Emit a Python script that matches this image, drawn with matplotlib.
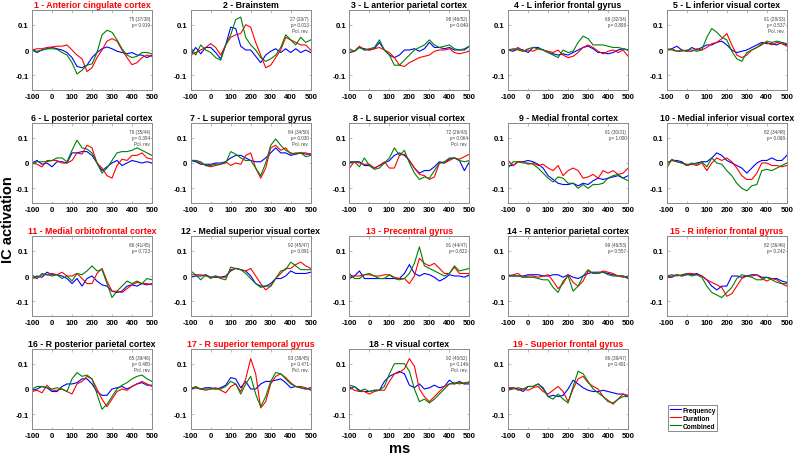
import numpy as np
import matplotlib
matplotlib.use("Agg")
import matplotlib.pyplot as plt

plt.rcParams['font.family'] = ['Liberation Sans', 'DejaVu Sans']
plt.rcParams['font.weight'] = 'bold'
plt.rcParams['axes.unicode_minus'] = False

# time axis (ms), sampled every 25 ms
t = [-100, -75, -50, -25, 0, 25, 50, 75, 100, 125, 150, 175, 200,
     225, 250, 275, 300, 325, 350, 375, 400, 425, 450, 475, 500]

titles = ['1 - Anterior cingulate cortex', '2 - Brainstem', '3 - L anterior parietal cortex',
          '4 - L inferior frontal gyrus', '5 - L inferior visual cortex',
          '6 - L posterior parietal cortex', '7 - L superior temporal gyrus',
          '8 - L superior visual cortex', '9 - Medial frontal cortex',
          '10 - Medial inferior visual cortex', '11 - Medial orbitofrontal cortex',
          '12 - Medial superior visual cortex', '13 - Precentral gyrus',
          '14 - R anterior parietal cortex', '15 - R inferior frontal gyrus',
          '16 - R posterior parietal cortex', '17 - R superior temporal gyrus',
          '18 - R visual cortex', '19 - Superior frontal gyrus']
red_title = [1, 0, 0, 0, 0, 0, 0, 0, 0, 0, 1, 0, 1, 0, 1, 0, 1, 0, 1]
notes = ['75 (37/38)\np= 0.919', '27 (20/7)\np= 0.013\nPol. rev.', '98 (46/52)\np= 0.640',
         '66 (32/34)\np= 0.898', '61 (28/33)\np= 0.537\nPol. rev.',
         '79 (35/44)\np= 0.394\nPol. rev.', '84 (34/50)\np= 0.030\nPol. rev.',
         '72 (29/43)\np= 0.064\nPol. rev.', '61 (30/31)\np= 1.000', '82 (34/48)\np= 0.068',
         '86 (41/45)\np= 0.723', '92 (45/47)\np= 0.891', '91 (44/47)\np= 0.822',
         '99 (46/53)\np= 0.557', '82 (36/46)\np= 0.242', '85 (39/46)\np= 0.480\nPol. rev.',
         '83 (38/45)\np= 0.471\nPol. rev.', '92 (40/52)\np= 0.146\nPol. rev.',
         '86 (39/47)\np= 0.401']

freq = [
    [0, -0.01, 0, 0.005, 0.01, 0.005, 0, -0.01, -0.03, -0.065, -0.07, -0.06, -0.03, -0.01, 0.005, 0.012, 0.005, -0.005, -0.01, -0.015, -0.01, -0.02, -0.02, -0.03, -0.02],
    [-0.02, 0.01, -0.015, 0.01, 0.01, -0.01, -0.035, 0.02, 0.09, 0.085, 0.015, 0.0, 0.0, -0.025, -0.05, -0.02, -0.005, 0.005, -0.01, 0.005, -0.01, 0.005, -0.01, 0.0, -0.01],
    [-0.01, -0.005, 0.01, 0.005, 0.0, 0.005, 0.03, 0.0, -0.02, -0.03, -0.02, 0.0, 0.0, 0.005, -0.005, 0.005, 0.03, 0.01, 0.01, 0.005, 0.01, 0.0, 0.0, 0.0, 0.015],
    [0.0, -0.005, 0.005, 0.0, -0.01, 0.01, 0.01, 0.0, -0.01, -0.015, -0.02, -0.015, -0.02, -0.01, 0.0, 0.01, 0.015, 0.005, -0.01, -0.01, -0.015, -0.01, 0.0, 0.005, 0.0],
    [0.0, 0.005, 0.015, 0.0, -0.005, 0.01, 0.0, 0.01, 0.02, 0.02, 0.03, 0.035, 0.02, 0.0, -0.01, -0.005, 0.0, 0.01, 0.02, 0.03, 0.025, 0.025, 0.02, 0.03, 0.02],
    [0.0, 0.01, -0.005, 0.0, -0.015, 0.005, 0.005, 0.0, 0.04, 0.04, 0.045, 0.045, 0.03, 0.0, -0.03, -0.015, 0.0, 0.01, -0.01, 0.0, 0.01, 0.005, 0.0, 0.005, 0.0],
    [0.01, 0.005, -0.005, -0.005, -0.005, 0.0, 0.0, 0.005, 0.02, 0.03, 0.03, 0.02, 0.01, 0.005, 0.005, 0.02, 0.04, 0.06, 0.04, 0.04, 0.03, 0.035, 0.04, 0.035, 0.035],
    [0.0, 0.005, 0.005, -0.01, -0.01, -0.02, -0.01, 0.0, 0.01, 0.03, 0.04, 0.03, 0.01, -0.02, -0.04, -0.03, -0.03, -0.015, 0.005, 0.0, 0.015, 0.02, 0.01, -0.03, 0.005],
    [-0.01, -0.01, 0.005, 0.005, 0.01, 0.005, -0.005, -0.02, -0.05, -0.065, -0.08, -0.085, -0.085, -0.08, -0.09, -0.08, -0.085, -0.07, -0.06, -0.065, -0.06, -0.055, -0.05, -0.06, -0.05],
    [0.0, 0.01, 0.01, 0.005, -0.01, -0.005, 0.0, 0.005, 0.005, 0.02, 0.04, 0.03, 0.01, 0.0, -0.01, -0.02, -0.04, -0.02, 0.0, 0.01, 0.01, 0.02, 0.01, 0.01, 0.03],
    [-0.01, 0.0, -0.005, 0.015, 0.005, 0.005, 0.0, -0.01, -0.03, -0.01, -0.04, -0.01, 0.0, -0.02, -0.035, -0.04, -0.06, -0.065, -0.06, -0.04, -0.035, -0.04, -0.03, -0.035, -0.03],
    [-0.005, 0.0, 0.0, 0.005, -0.005, -0.005, -0.005, 0.0, 0.02, 0.03, 0.025, 0.02, 0.0, -0.03, -0.04, -0.04, -0.03, -0.01, -0.01, 0.0, 0.02, 0.01, 0.01, 0.01, 0.015],
    [-0.01, 0.0, 0.02, -0.01, -0.01, -0.01, -0.01, -0.01, -0.01, -0.01, -0.01, 0.01, 0.045, 0.01, 0.0, 0.01, 0.005, -0.005, -0.02, -0.01, 0.005, 0.0, 0.0, -0.005, 0.005],
    [0.0, 0.0, 0.0, 0.0, 0.005, 0.005, 0.005, 0.0, 0.0, 0.005, 0.005, -0.005, 0.005, -0.005, -0.01, 0.0, 0.01, 0.015, 0.015, 0.015, 0.01, 0.005, 0.0, 0.0, -0.01],
    [-0.005, -0.005, 0.005, 0.0, 0.005, 0.005, 0.01, 0.0, -0.015, -0.04, -0.055, -0.04, -0.04, 0.0, 0.0, -0.005, 0.0, 0.005, 0.005, -0.005, -0.005, -0.01, -0.01, -0.02, -0.025],
    [-0.005, 0.0, 0.01, 0.005, -0.01, -0.01, 0.01, 0.02, 0.02, 0.025, 0.04, 0.04, 0.02, -0.01, -0.025, -0.025, 0.0, 0.005, 0.01, 0.0, 0.01, 0.02, 0.025, 0.015, 0.015],
    [0.0, 0.005, 0.0, 0.005, 0.005, 0.0, 0.005, 0.015, 0.045, 0.04, 0.005, 0.03, 0.0, 0.0, 0.02, 0.03, 0.03, 0.035, 0.04, 0.025, 0.005, 0.01, 0.005, 0.0, 0.005],
    [0.0, 0.01, -0.005, -0.01, -0.01, -0.005, -0.005, 0.03, 0.05, 0.06, 0.07, 0.06, 0.015, 0.005, 0.02, 0.0, 0.005, 0.015, 0.005, 0.01, 0.035, 0.02, 0.03, 0.02, 0.02],
    [0.0, 0.005, 0.0, -0.01, 0.01, 0.01, 0.02, 0.005, -0.03, -0.025, -0.03, -0.025, 0.0, 0.035, 0.02, 0.005, -0.005, -0.01, -0.01, -0.005, -0.01, -0.015, -0.02, -0.02, -0.03],
]

dur = [
    [0, 0.005, 0.005, 0.01, 0.012, 0.015, 0.015, 0.02, 0, -0.02, -0.035, -0.085, -0.07, -0.03, 0.0, 0.035, 0.045, 0.035, 0.0, -0.03, -0.058, -0.05, -0.03, -0.02, -0.025],
    [-0.02, -0.01, 0.0, 0.01, 0.025, 0.01, -0.02, 0.02, 0.05, 0.06, 0.065, 0.1, 0.09, 0.03, -0.02, -0.07, -0.06, -0.03, 0.0, 0.05, 0.04, 0.03, 0.02, 0.02, 0.0],
    [-0.01, -0.005, 0.015, 0.0, 0.0, 0.005, 0.01, 0.0, -0.01, -0.03, -0.06, -0.065, -0.05, -0.04, -0.03, -0.025, -0.02, -0.005, 0.0, 0.0, 0.005, -0.01, -0.015, -0.01, -0.005],
    [0.0, 0.0, 0.01, -0.005, 0.0, -0.005, 0.005, 0.0, -0.005, -0.01, 0.0, -0.02, -0.03, -0.025, -0.01, 0.01, 0.02, 0.01, -0.005, -0.015, -0.005, 0.0, -0.01, 0.0, -0.025],
    [0.005, 0.0, -0.005, 0.0, -0.005, -0.005, 0.005, 0.0, 0.01, 0.025, 0.03, 0.045, 0.065, 0.02, -0.02, -0.03, -0.02, 0.0, 0.01, 0.025, 0.03, 0.02, 0.03, 0.025, 0.015],
    [0.0, -0.005, -0.015, 0.01, 0.01, 0.01, 0.0, 0.0, 0.01, 0.04, 0.035, 0.07, 0.06, 0.0, -0.02, -0.05, -0.06, -0.01, 0.015, 0.01, 0.03, 0.03, 0.04, 0.02, 0.015],
    [0.01, 0.01, 0.0, -0.01, -0.015, -0.01, -0.005, 0.005, -0.01, 0.0, -0.005, 0.03, 0.04, -0.02, -0.06, -0.02, 0.06, 0.07, 0.05, 0.06, 0.035, 0.04, 0.04, 0.04, 0.035],
    [-0.02, 0.005, 0.0, -0.005, -0.005, -0.02, -0.01, 0.005, -0.02, -0.02, 0.03, 0.035, 0.01, -0.02, -0.045, -0.05, -0.065, -0.055, 0.0, 0.0, 0.01, 0.02, 0.015, 0.025, 0.035],
    [0.01, -0.01, 0.005, 0.005, -0.005, 0.0, -0.01, -0.005, -0.02, -0.03, -0.01, -0.05, -0.03, -0.02, -0.03, -0.06, -0.055, -0.045, -0.06, -0.03, -0.04, -0.03, -0.045, -0.04, -0.02],
    [0.0, 0.01, 0.005, 0.0, -0.005, -0.005, -0.01, 0.0, -0.03, 0.0, 0.02, 0.01, 0.02, 0.005, -0.02, -0.05, -0.065, -0.065, -0.04, 0.0, 0.0, -0.01, -0.01, -0.015, -0.01],
    [-0.005, -0.01, 0.005, 0.005, 0.01, 0.005, 0.015, 0.0, 0.0, 0.01, -0.01, -0.03, -0.03, 0.01, 0.03, -0.02, -0.06, -0.06, -0.065, -0.05, -0.035, -0.025, -0.03, -0.03, -0.035],
    [0.005, 0.005, 0.005, 0.0, -0.005, 0.0, -0.005, -0.005, 0.025, 0.03, 0.025, 0.02, 0.03, 0.0, -0.03, -0.055, -0.04, -0.01, 0.01, 0.03, 0.03, 0.045, 0.055, 0.04, 0.03],
    [0.0, 0.0, 0.0, 0.005, 0.005, 0.0, 0.0, 0.005, 0.005, -0.005, -0.01, -0.01, -0.03, 0.0, 0.07, 0.05, 0.04, 0.05, 0.03, 0.01, 0.01, 0.035, 0.01, 0.01, 0.01],
    [0.0, 0.005, 0.01, -0.005, 0.0, 0.0, -0.005, 0.0, 0.005, -0.02, -0.05, -0.03, 0.005, -0.025, -0.04, -0.02, 0.02, 0.01, 0.01, 0.02, 0.015, 0.01, 0.0, -0.005, 0.0],
    [-0.005, 0.0, 0.005, 0.0, 0.01, 0.01, 0.005, 0.0, -0.015, -0.025, -0.035, -0.045, -0.08, -0.07, -0.04, -0.01, 0.0, 0.0, 0.005, -0.01, -0.02, -0.01, -0.015, -0.03, -0.04],
    [-0.01, -0.005, -0.015, 0.015, -0.005, -0.005, 0.0, -0.01, -0.02, 0.02, 0.03, 0.05, 0.04, 0.0, -0.04, -0.07, -0.04, -0.01, 0.0, -0.005, 0.01, 0.02, 0.03, 0.02, 0.01],
    [0.005, 0.005, 0.0, -0.005, 0.0, 0.005, -0.005, -0.015, 0.01, 0.02, -0.01, 0.04, 0.12, 0.06, -0.075, -0.05, 0.02, 0.05, 0.06, 0.045, 0.025, 0.01, 0.01, 0.005, -0.005],
    [0.01, -0.005, -0.01, -0.01, -0.02, -0.01, -0.005, -0.005, 0.03, 0.06, 0.065, 0.08, 0.12, 0.09, 0.0, -0.03, -0.05, -0.03, -0.01, 0.01, 0.02, 0.02, 0.025, 0.02, 0.03],
    [0.005, 0.005, -0.005, 0.0, -0.005, 0.005, 0.01, -0.01, -0.02, -0.005, 0.01, -0.01, -0.05, 0.0, 0.04, 0.05, 0.025, 0.01, 0.0, -0.03, -0.045, -0.06, -0.04, -0.02, -0.025],
]

comb = [
    [0, -0.005, 0, 0.005, 0.005, 0.003, -0.01, -0.02, -0.05, -0.095, -0.08, -0.06, -0.055, -0.01, 0.06, 0.078, 0.07, 0.04, 0.005, -0.02, -0.03, -0.025, -0.01, -0.01, -0.015],
    [0.01, -0.02, 0.02, 0.0, -0.01, -0.03, -0.04, 0.02, 0.06, 0.12, 0.13, 0.05, 0.02, 0.0, -0.03, -0.045, -0.035, -0.02, 0.01, 0.06, 0.04, 0.02, 0.05, 0.03, 0.04],
    [0.005, -0.005, 0.01, 0.0, 0.005, 0.01, 0.04, 0.0, -0.02, -0.06, -0.06, -0.04, -0.02, 0.0, 0.01, 0.02, 0.04, 0.02, 0.01, 0.015, 0.02, 0.005, 0.0, 0.005, 0.015],
    [0.0, 0.005, 0.0, -0.005, 0.005, 0.01, 0.005, 0.0, -0.01, -0.02, -0.03, 0.0, -0.01, -0.005, 0.03, 0.055, 0.045, 0.02, 0.02, 0.02, 0.015, 0.01, 0.01, 0.005, 0.0],
    [0.0, 0.005, -0.005, -0.005, 0.0, 0.0, -0.005, 0.0, 0.05, 0.085, 0.07, 0.05, 0.04, -0.005, -0.035, -0.045, -0.01, 0.0, 0.01, 0.02, 0.035, 0.03, 0.035, 0.03, 0.025],
    [-0.005, 0.005, 0.005, 0.005, 0.01, 0.02, 0.02, 0.005, 0.05, 0.09, 0.06, 0.055, 0.04, 0.0, -0.04, -0.02, 0.01, 0.04, 0.045, 0.045, 0.05, 0.06, 0.05, 0.04, 0.03],
    [0.01, 0.01, 0.005, -0.01, -0.01, -0.005, -0.005, 0.0, 0.045, 0.035, 0.02, 0.01, 0.01, -0.02, -0.05, 0.0, 0.07, 0.095, 0.07, 0.05, 0.04, 0.035, 0.04, 0.025, 0.03],
    [0.005, 0.005, -0.015, 0.02, -0.01, -0.025, -0.02, 0.0, 0.02, 0.06, 0.03, 0.05, 0.0, -0.04, -0.065, -0.055, -0.06, -0.03, 0.0, 0.005, 0.02, 0.02, 0.01, 0.005, 0.01],
    [-0.02, 0.005, 0.005, 0.0, 0.0, -0.005, -0.02, -0.04, -0.06, -0.075, -0.055, -0.06, -0.08, -0.08, -0.1, -0.085, -0.1, -0.085, -0.085, -0.08, -0.06, -0.05, -0.045, -0.06, -0.07],
    [-0.02, 0.015, 0.005, 0.0, -0.01, 0.0, -0.005, 0.005, -0.015, 0.02, 0.0, -0.005, -0.03, -0.05, -0.08, -0.1, -0.11, -0.09, -0.085, -0.03, -0.025, -0.03, -0.02, -0.01, 0.0],
    [0.005, -0.01, 0.01, 0.005, 0.0, 0.005, -0.01, 0.0, -0.02, 0.01, 0.005, 0.02, 0.04, 0.02, 0.025, -0.03, -0.085, -0.06, -0.04, -0.02, -0.03, -0.02, -0.03, -0.01, -0.015],
    [0.02, 0.005, -0.015, 0.005, -0.01, 0.0, -0.01, -0.015, 0.035, 0.03, 0.025, 0.01, -0.01, -0.03, -0.045, -0.04, -0.04, -0.01, 0.02, 0.025, 0.055, 0.04, 0.025, 0.025, 0.025],
    [0.01, -0.01, -0.01, 0.005, 0.01, 0.0, -0.01, -0.01, 0.005, -0.01, -0.015, -0.01, 0.01, 0.05, 0.115, 0.04, 0.03, 0.02, 0.01, 0.0, 0.01, 0.04, 0.02, 0.025, 0.03],
    [0.005, 0.0, 0.0, -0.005, -0.005, -0.005, -0.01, -0.015, -0.015, -0.045, -0.065, -0.02, 0.0, -0.06, -0.04, 0.0, 0.025, 0.01, 0.01, 0.015, 0.005, 0.0, 0.0, 0.0, -0.005],
    [0.0, 0.005, 0.0, 0.005, 0.01, 0.0, 0.005, -0.005, -0.04, -0.065, -0.075, -0.085, -0.065, -0.045, -0.01, 0.005, 0.0, -0.005, -0.015, -0.015, -0.005, -0.015, -0.025, -0.03, -0.03],
    [0.0, 0.01, 0.01, 0.005, 0.0, 0.005, 0.0, -0.01, 0.04, 0.065, 0.05, 0.055, 0.04, -0.02, -0.08, -0.06, -0.03, 0.0, 0.015, 0.025, 0.04, 0.05, 0.055, 0.04, 0.03],
    [0.0, 0.01, 0.0, 0.0, 0.0, 0.0, 0.0, 0.01, 0.03, 0.02, -0.02, 0.02, 0.05, -0.02, -0.07, -0.03, 0.03, 0.065, 0.06, 0.04, 0.02, 0.01, 0.005, 0.0, 0.0],
    [0.015, 0.01, -0.01, 0.0, -0.01, -0.005, -0.005, 0.01, 0.06, 0.1, 0.1, 0.1, 0.07, 0.0, -0.05, -0.04, -0.055, -0.04, -0.02, 0.0, 0.02, 0.025, 0.02, 0.025, 0.025],
    [-0.005, 0.0, 0.005, 0.0, 0.01, 0.01, 0.02, 0.0, -0.03, -0.04, -0.02, -0.04, -0.055, 0.01, 0.07, 0.06, 0.03, 0.0, -0.015, -0.03, -0.05, -0.055, -0.04, -0.03, -0.03],
]

series_names = ['Frequency', 'Duration', 'Combined']
series_colors = ['#0000ff', '#ff0000', '#008000']
xticks = [-100, 0, 100, 200, 300, 400, 500]
yticks = [-0.1, 0, 0.1]
ytick_labels = ['-0.1', '0', '0.1']

W, H = 794, 456
fig = plt.figure(figsize=(W / 100, H / 100), dpi=100)

frame = '#8a8a8a'
lines = []
for i in range(19):
    r, c = divmod(i, 5)
    left = 32 + c * 158.7
    top = 11 + r * 113
    ax = fig.add_axes([left / W, (H - top - 80) / H, 120 / W, 80 / H])
    for vals, col in zip((freq[i], dur[i], comb[i]), series_colors):
        ln, = ax.plot(t, vals, color=col, lw=0.8)
        if i == 0:
            lines.append(ln)
    ax.set_xlim(-100, 500)
    ax.set_ylim(-0.158, 0.158)
    ax.set_xticks(xticks)
    ax.set_yticks(yticks)
    ax.set_yticklabels(ytick_labels)
    ax.tick_params(direction='in', length=1.8, width=0.4, color=frame,
                   top=True, right=True, labelsize=5.6, pad=2.5, labelcolor='black')
    for sp in ax.spines.values():
        sp.set_color(frame)
        sp.set_linewidth(0.7)
    ax.set_title(titles[i], fontsize=6.3, fontweight='bold', pad=2.5,
                 color='#ff0000' if red_title[i] else 'black')
    ax.text(0.985, 0.93, notes[i], transform=ax.transAxes, ha='right', va='top',
            fontsize=3.3, fontweight='normal', color='#404040', linespacing=1.3)

fig.text(8 / W, 1 - 220 / H, 'IC activation', rotation=90, ha='center', va='center',
         fontsize=10.5, fontweight='bold')
fig.text(400 / W, 1 - 449 / H, 'ms', ha='center', va='center', fontsize=10.5, fontweight='bold')

leg = fig.legend(lines, series_names, loc='upper left',
                 bbox_to_anchor=(668 / W, 1 - 406 / H), fontsize=4.8, frameon=True,
                 fancybox=False, handlelength=1.7, handletextpad=0.2, borderpad=0.25,
                 labelspacing=0.15, borderaxespad=0)
leg.get_frame().set_edgecolor('#555555')
leg.get_frame().set_linewidth(0.6)

fig.savefig('out.png', dpi=100)
